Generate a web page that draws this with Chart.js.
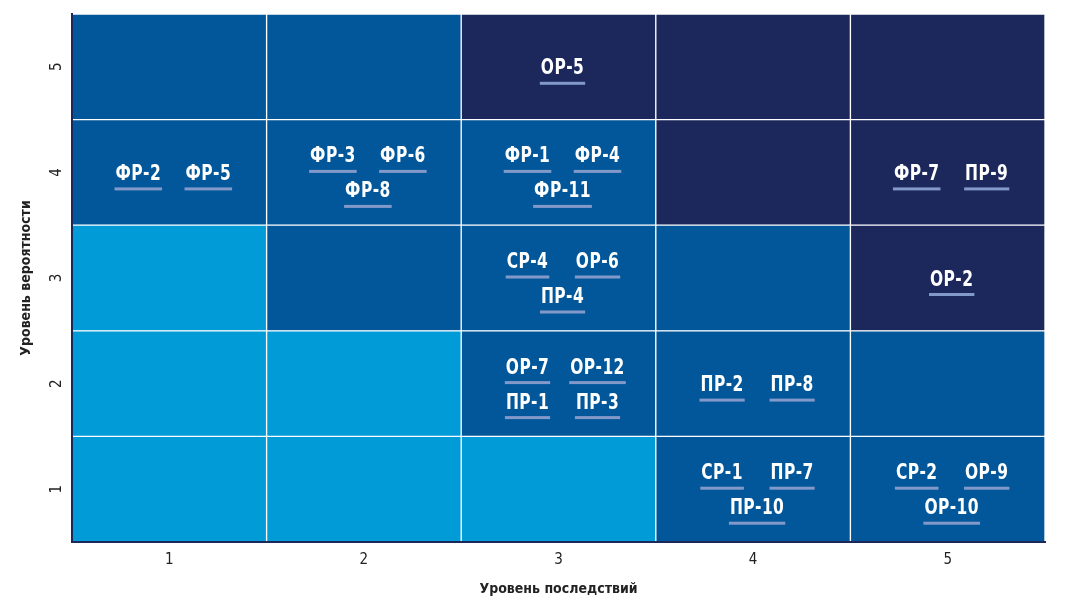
<!DOCTYPE html>
<html>
<head>
<meta charset="utf-8">
<script src="https://cdn.jsdelivr.net/npm/chart.js@4.4.0/dist/chart.umd.min.js"></script>
<style>
  html, body { margin: 0; padding: 0; background: #fff; }
  #wrap { width: 1075px; height: 611px; }
</style>
</head>
<body>
<div id="wrap"><canvas id="riskMap"></canvas></div>
<script>
// consequence level (x) and probability level (y)
const consequences = ['1', '2', '3', '4', '5'];
const probabilities = ['1', '2', '3', '4', '5'];

// risk zone of each cell, one row per probability level (1 at the bottom)
const zoneRow1 = [0, 0, 0, 1, 1];
const zoneRow2 = [0, 0, 1, 1, 1];
const zoneRow3 = [0, 1, 1, 1, 2];
const zoneRow4 = [1, 1, 1, 2, 2];
const zoneRow5 = [1, 1, 2, 2, 2];
const zoneRows = [zoneRow1, zoneRow2, zoneRow3, zoneRow4, zoneRow5];

// risk codes per cell: [consequence, probability, lines of codes]
const riskCells = [
  [1, 4, [['ФР-2', 'ФР-5']]],
  [2, 4, [['ФР-3', 'ФР-6'], ['ФР-8']]],
  [3, 5, [['ОР-5']]],
  [3, 4, [['ФР-1', 'ФР-4'], ['ФР-11']]],
  [3, 3, [['СР-4', 'ОР-6'], ['ПР-4']]],
  [3, 2, [['ОР-7', 'ОР-12'], ['ПР-1', 'ПР-3']]],
  [4, 2, [['ПР-2', 'ПР-8']]],
  [4, 1, [['СР-1', 'ПР-7'], ['ПР-10']]],
  [5, 4, [['ФР-7', 'ПР-9']]],
  [5, 3, [['ОР-2']]],
  [5, 1, [['СР-2', 'ОР-9'], ['ОР-10']]]
];

const zoneColors = ['#019bd8', '#02579a', '#1c275c'];
const narrow = '"Liberation Sans Narrow", "DejaVu Sans Condensed", sans-serif';

const datasets = zoneRows.map(function(row, r) {
  return {
    label: 'Вероятность ' + probabilities[r],
    data: consequences.map(function() { return [r, r + 1]; }),
    backgroundColor: row.map(function(z) { return zoneColors[z]; }),
    borderColor: '#ffffff',
    borderWidth: 1,
    borderSkipped: false,
    grouped: false,
    barPercentage: 1,
    categoryPercentage: 1
  };
});

// codes are drawn squeezed a bit, the original uses a condensed face
const riskLabels = {
  id: 'riskLabels',
  afterDatasetsDraw(chart) {
    const ctx = chart.ctx;
    const x = chart.scales.x, y = chart.scales.y;
    const sx = 0.82;
    ctx.save();
    ctx.font = 'bold 21px ' + narrow;
    ctx.letterSpacing = '0.5px';
    ctx.textAlign = 'left';
    ctx.textBaseline = 'alphabetic';
    riskCells.forEach(function(cell) {
      const cx = x.getPixelForValue(cell[0] - 1) + 4;
      const cy = y.getPixelForValue(cell[1] - 0.5);
      const lines = cell[2];
      lines.forEach(function(codes, li) {
        const ly = cy + (li - (lines.length - 1) / 2) * 35;
        codes.forEach(function(code, ci) {
          const tx = cx + (ci - (codes.length - 1) / 2) * 70;
          const w = ctx.measureText(code).width * sx;
          const left = tx - w / 2;
          ctx.fillStyle = '#8399c9';
          ctx.fillRect(left - 1, ly + 15, w + 2, 3);
          ctx.fillStyle = '#ffffff';
          ctx.save();
          ctx.translate(left, ly + 7.5);
          ctx.scale(sx, 1);
          ctx.fillText(code, 0, 0);
          ctx.restore();
        });
      });
    });
    ctx.restore();
  }
};

new Chart(document.getElementById('riskMap'), {
  type: 'bar',
  data: {
    labels: consequences,
    datasets: datasets
  },
  options: {
    responsive: true,
    maintainAspectRatio: false,
    animation: false,
    layout: { padding: { top: 14, right: 30, left: 0, bottom: 0 } },
    plugins: {
      legend: { display: false },
      tooltip: { enabled: false }
    },
    scales: {
      x: {
        type: 'category',
        grid: { display: false, drawTicks: false },
        border: { display: true, color: '#1c275c', width: 2, z: 1 },
        ticks: { color: '#222', font: { family: narrow, size: 15 }, padding: 9 },
        title: {
          display: true,
          text: 'Уровень последствий',
          color: '#222',
          font: { family: narrow, size: 14, weight: 'bold' },
          padding: { top: 0, bottom: 13 }
        },
        afterFit(scale) { scale.height = 69; }
      },
      y: {
        type: 'linear',
        min: 0,
        max: 5,
        grid: { display: false, drawTicks: false },
        border: { display: true, color: '#1c275c', width: 2, z: 1 },
        afterBuildTicks(scale) {
          scale.ticks = probabilities.map(function(p, i) { return { value: i + 0.5 }; });
        },
        ticks: {
          color: '#222',
          font: { family: narrow, size: 15 },
          minRotation: 90,
          maxRotation: 90,
          crossAlign: 'center',
          padding: 11,
          callback: function(v) { return probabilities[Math.round(v - 0.5)]; }
        },
        title: {
          display: true,
          text: 'Уровень вероятности',
          color: '#222',
          font: { family: narrow, size: 14, weight: 'bold' },
          padding: { top: 18, bottom: 0 }
        },
        afterFit(scale) {
          scale.width = 72;
          scale.paddingTop = 0;
          scale.paddingBottom = 0;
        }
      }
    }
  },
  plugins: [riskLabels]
});
</script>
</body>
</html>
